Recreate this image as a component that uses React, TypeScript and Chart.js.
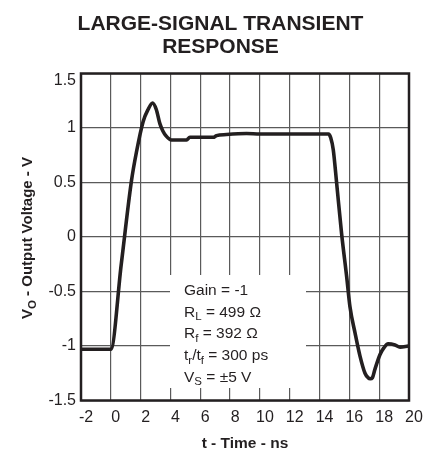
import React, { useEffect, useRef } from "react";
import { Chart, registerables } from "chart.js";

Chart.register(...registerables);

// ---- data ----
const timeNs = [
  -2, 0, 0.7, 1.39, 1.72, 2.17, 2.5, 2.8, 3.05, 3.29, 3.5, 3.69, 4.07,
  5.08, 5.3, 6.87, 7.09, 7.76, 9.1, 10, 11, 12, 13, 14, 14.6, 14.75, 14.92, 15.15, 15.48,
  15.82, 16.04, 16.38, 16.71, 17.05, 17.25, 17.4, 17.55, 17.7, 18.05, 18.3, 18.6, 19.06,
  19.4, 19.95,
];
const outputVolts = [
  -1.03, -1.03, -0.25, 0.52, 0.78, 1.06, 1.17, 1.23, 1.17, 1.04, 0.97, 0.93,
  0.89, 0.89, 0.915, 0.915, 0.93, 0.94, 0.95, 0.945, 0.945, 0.945, 0.945, 0.945, 0.945,
  0.91, 0.8, 0.49, 0.03, -0.365, -0.64, -0.88, -1.09, -1.25, -1.29, -1.3, -1.29, -1.22,
  -1.08, -1.02, -0.98, -0.99, -1.01, -1.0,
];
const xTickValues = [-2, 0, 2, 4, 6, 8, 10, 12, 14, 16, 18, 20];
const xTickLabels = ["-2", "0", "2", "4", "6", "8", "10", "12", "14", "16", "18", "20"];
const yTickValues = [-1.5, -1, -0.5, 0, 0.5, 1, 1.5];
const yTickLabels = ["-1.5", "-1", "-0.5", "0", "0.5", "1", "1.5"];
const titleLines = ["LARGE-SIGNAL TRANSIENT", "RESPONSE"];
const xTitle = "t - Time - ns";
// segments: [text, isSubscript]
const yTitle: [string, boolean][] = [["V", false], ["O", true], [" - Output Voltage - V", false]];
const noteLines: [string, boolean][][] = [
  [["Gain = -1", false]],
  [["R", false], ["L", true], [" = 499 \u03A9", false]],
  [["R", false], ["f", true], [" = 392 \u03A9", false]],
  [["t", false], ["r", true], ["/t", false], ["f", true], [" = 300 ps", false]],
  [["V", false], ["S", true], [" = \u00B15 V", false]],
];

const FONT = "'Liberation Sans', Arial, Helvetica, sans-serif";
const INK = "#231f20";

function segWidth(ctx: CanvasRenderingContext2D, segs: [string, boolean][], main: string, sub: string) {
  let w = 0;
  for (const [t, s] of segs) {
    ctx.font = s ? sub : main;
    w += ctx.measureText(t).width;
  }
  return w;
}
function drawSegs(
  ctx: CanvasRenderingContext2D,
  segs: [string, boolean][],
  x: number,
  y: number,
  main: string,
  sub: string,
  subDy: number
) {
  let cx = x;
  for (const [t, s] of segs) {
    ctx.font = s ? sub : main;
    ctx.fillText(t, cx, s ? y + subDy : y);
    cx += ctx.measureText(t).width;
  }
}

const decorPlugin = {
  id: "decor",
  beforeDatasetsDraw(chart: any) {
    const ctx = chart.ctx as CanvasRenderingContext2D;
    const ca = chart.chartArea;
    // white note box covering grid
    ctx.save();
    ctx.fillStyle = "#ffffff";
    ctx.fillRect(ca.left + 89, ca.top + 201.5, 136, 113);
    ctx.restore();
  },
  afterDatasetsDraw(chart: any) {
    const ctx = chart.ctx as CanvasRenderingContext2D;
    const ca = chart.chartArea;
    const yScale = chart.scales.y;
    ctx.save();
    // frame
    ctx.strokeStyle = INK;
    ctx.lineWidth = 2.5;
    ctx.strokeRect(ca.left, ca.top, ca.right - ca.left, ca.bottom - ca.top);

    ctx.fillStyle = INK;
    // top y label, nudged down like the reference
    ctx.font = `16px ${FONT}`;
    ctx.textAlign = "right";
    ctx.textBaseline = "middle";
    ctx.fillText(yTickLabels[yTickLabels.length - 1], ca.left - 5, yScale.getPixelForValue(1.5) + 7.5);

    // title
    ctx.textAlign = "center";
    ctx.textBaseline = "alphabetic";
    ctx.font = `bold 21px ${FONT}`;
    ctx.fillText(titleLines[0], 220.5, 29.5);
    ctx.fillText(titleLines[1], 220.5, 52.8);

    // x title
    ctx.font = `bold 15.5px ${FONT}`;
    ctx.fillText(xTitle, (ca.left + ca.right) / 2, 448);

    // y title (rotated, with subscript)
    ctx.textAlign = "left";
    const ym = `bold 15px ${FONT}`;
    const ys = `bold 11.5px ${FONT}`;
    const w = segWidth(ctx, yTitle, ym, ys);
    ctx.save();
    ctx.translate(31.7, (ca.top + ca.bottom) / 2 + 1);
    ctx.rotate(-Math.PI / 2);
    drawSegs(ctx, yTitle, -w / 2, 0, ym, ys, 4);
    ctx.restore();

    // note text
    const nm = `15.5px ${FONT}`;
    const ns = `11.5px ${FONT}`;
    noteLines.forEach((segs, i) => {
      drawSegs(ctx, segs, 184, 295 + i * 21.7, nm, ns, 3.5);
    });
    ctx.restore();
  },
};

export default function App() {
  const ref = useRef<HTMLCanvasElement>(null);
  useEffect(() => {
    if (!ref.current) return;
    const chart = new Chart(ref.current, {
      type: "line",
      data: {
        datasets: [
          {
            data: timeNs.map((t, i) => ({ x: t, y: outputVolts[i] })),
            borderColor: INK,
            borderWidth: 3.6,
            pointRadius: 0,
            fill: false,
            cubicInterpolationMode: "monotone",
            borderJoinStyle: "round",
            borderCapStyle: "round",
          },
        ],
      },
      options: {
        animation: false,
        responsive: false,
        devicePixelRatio: 1,
        layout: { padding: { top: 73.5, right: 25, left: 0, bottom: 0 } },
        plugins: { legend: { display: false }, tooltip: { enabled: false }, title: { display: false } },
        scales: {
          x: {
            type: "linear",
            min: -2,
            max: 20,
            afterFit: (s: any) => {
              s.height = 48.5;
            },
            afterBuildTicks: (s: any) => {
              s.ticks = xTickValues.map((v) => ({ value: v }));
            },
            ticks: {
              callback: (v: any) => {
                const i = xTickValues.indexOf(Number(v));
                return i >= 0 ? xTickLabels[i] : "";
              },
              color: INK,
              font: { family: FONT, size: 16 },
              padding: 7,
              labelOffset: 5,
              maxRotation: 0,
              autoSkip: false,
            },
            grid: { color: "#5a5a5a", lineWidth: 1.2, drawTicks: false },
            border: { display: false },
          },
          y: {
            type: "linear",
            min: -1.5,
            max: 1.5,
            afterFit: (s: any) => {
              s.width = 81;
            },
            afterBuildTicks: (s: any) => {
              s.ticks = yTickValues.map((v) => ({ value: v }));
            },
            ticks: {
              callback: (v: any) => {
                const i = yTickValues.indexOf(Number(v));
                if (i === yTickValues.length - 1) return "";
                return i >= 0 ? yTickLabels[i] : "";
              },
              color: INK,
              font: { family: FONT, size: 16 },
              padding: 5,
              autoSkip: false,
            },
            grid: { color: "#5a5a5a", lineWidth: 1.2, drawTicks: false },
            border: { display: false },
          },
        },
      },
      plugins: [decorPlugin],
    } as any);
    return () => chart.destroy();
  }, []);
  return (
    <div style={{ position: "fixed", left: 0, top: 0, width: 434, height: 449, background: "#fff" }}>
      <canvas ref={ref} width={434} height={449} style={{ display: "block", width: 434, height: 449 }} />
    </div>
  );
}
